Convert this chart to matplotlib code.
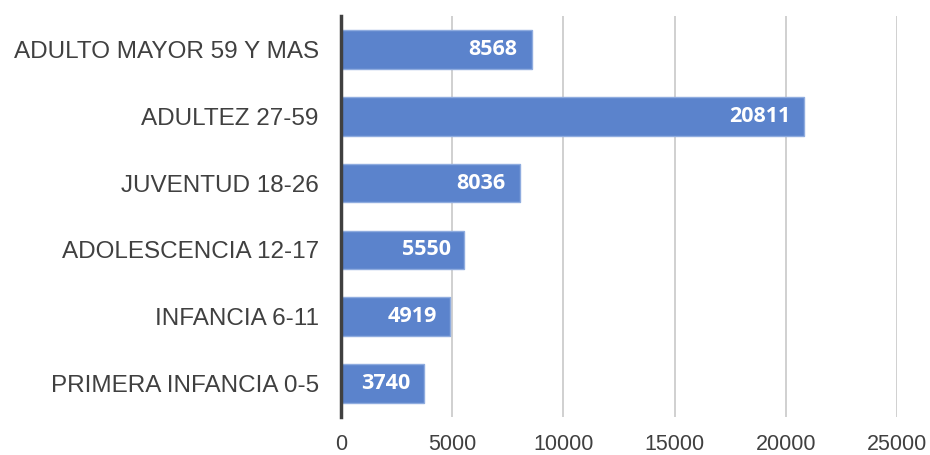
import matplotlib
matplotlib.use("Agg")
import matplotlib.pyplot as plt

categorias = ["PRIMERA INFANCIA 0-5", "INFANCIA 6-11", "ADOLESCENCIA 12-17",
              "JUVENTUD 18-26", "ADULTEZ 27-59", "ADULTO MAYOR 59 Y MAS"]
valores = [3740, 4919, 5550, 8036, 20811, 8568]
ticks_x = [0, 5000, 10000, 15000, 20000, 25000]

fig = plt.figure(figsize=(9.3, 4.55), dpi=100)
ax = fig.add_axes([0.3667, 0.0835, 0.5978, 0.8815])

ax.barh(range(len(categorias)), valores, height=0.58, color="#5B83CC",
        edgecolor="#8FACDF", linewidth=1, zorder=3)

for i, v in enumerate(valores):
    ax.annotate(str(v), (v, i), xytext=(-10, 0), textcoords="offset points",
                ha="right", va="center", color="white", fontsize=15.5,
                fontweight="bold", family="Open Sans", zorder=4)

ax.set_xlim(0, 25000)
ax.set_ylim(-0.5, 5.5)
ax.set_xticks(ticks_x)
ax.set_yticks(range(len(categorias)))
ax.set_yticklabels(categorias, family="Liberation Sans", fontsize=17.5, color="#404040")
for lab in ax.get_xticklabels():
    lab.set_family("Liberation Sans")
    lab.set_fontsize(15.5)
    lab.set_color("#404040")
ax.tick_params(axis="both", length=0)
ax.tick_params(axis="x", pad=12)
ax.tick_params(axis="y", pad=16)

ax.grid(axis="x", color="#C8C8C8", linewidth=1.2, zorder=0)
for s in ["top", "right", "bottom"]:
    ax.spines[s].set_visible(False)
ax.spines["left"].set_color("#404040")
ax.spines["left"].set_linewidth(2.5)
ax.spines["left"].set_zorder(5)

fig.savefig("out.png", dpi=100)
